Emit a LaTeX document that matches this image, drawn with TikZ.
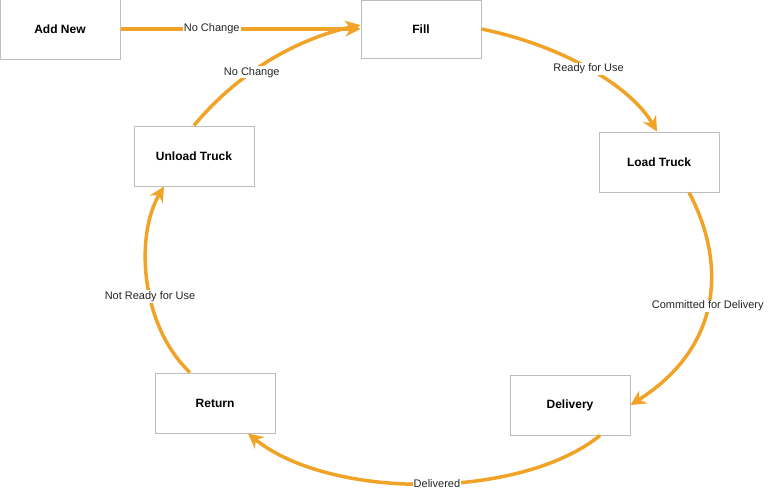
\documentclass[tikz,border=0pt]{standalone}
\usepackage{fontspec}
\setmainfont{Liberation Sans}
\usetikzlibrary{arrows.meta}
\definecolor{arr}{HTML}{F0A327}
\definecolor{bord}{HTML}{BDBDBD}
\begin{document}
\begin{tikzpicture}[x=1pt,y=-1pt,
  box/.style={draw=bord,line width=1pt,fill=white,minimum width=120pt,minimum height=60pt,inner sep=0pt,font=\bfseries\fontsize{12}{14}\selectfont},
  conn/.style={draw=arr,line width=3.5pt,-{Stealth[length=15pt,width=15pt,inset=5pt]}},
  lab/.style={fill=white,inner sep=1pt,font=\fontsize{11}{13}\selectfont,text=black!85}]
\useasboundingbox (0,0) rectangle (781,501);
\node[box] (add) at (60,29) {Add New};
\node[box,minimum height=58pt] (fill) at (421,29) {Fill};
\node[box] (load) at (659,162) {Load Truck};
\node[box] (del) at (570,405) {Delivery};
\node[box] (ret) at (215,403) {Return};
\node[box] (unl) at (194,156) {Unload Truck};
\draw[conn] (add.east) -- node[lab,pos=0.38]{No Change} (fill.west);
\draw[conn] ([xshift=0pt]unl.north) .. controls (240,70) and (300,38) .. ([yshift=4pt]fill.west)
  node[lab,pos=0.38]{No Change};
\draw[conn] (fill.east) .. controls (560,45) and (630,85) .. ([xshift=-2pt]load.north)
  node[lab,pos=0.5]{Ready for Use};
\draw[conn] ([xshift=30pt]load.south) .. controls (725,260) and (725,345) .. (del.east)
  node[lab,pos=0.52]{Committed for Delivery};
\draw[conn] ([xshift=30pt]del.south) .. controls (520,500) and (330,500) .. ([xshift=33pt]ret.south)
  node[lab,pos=0.47]{Delivered};
\draw[conn] ([xshift=-25pt]ret.north) .. controls (140,325) and (135,235) .. ([xshift=-30pt]unl.south)
  node[lab,pos=0.42]{Not Ready for Use};
\end{tikzpicture}
\end{document}
